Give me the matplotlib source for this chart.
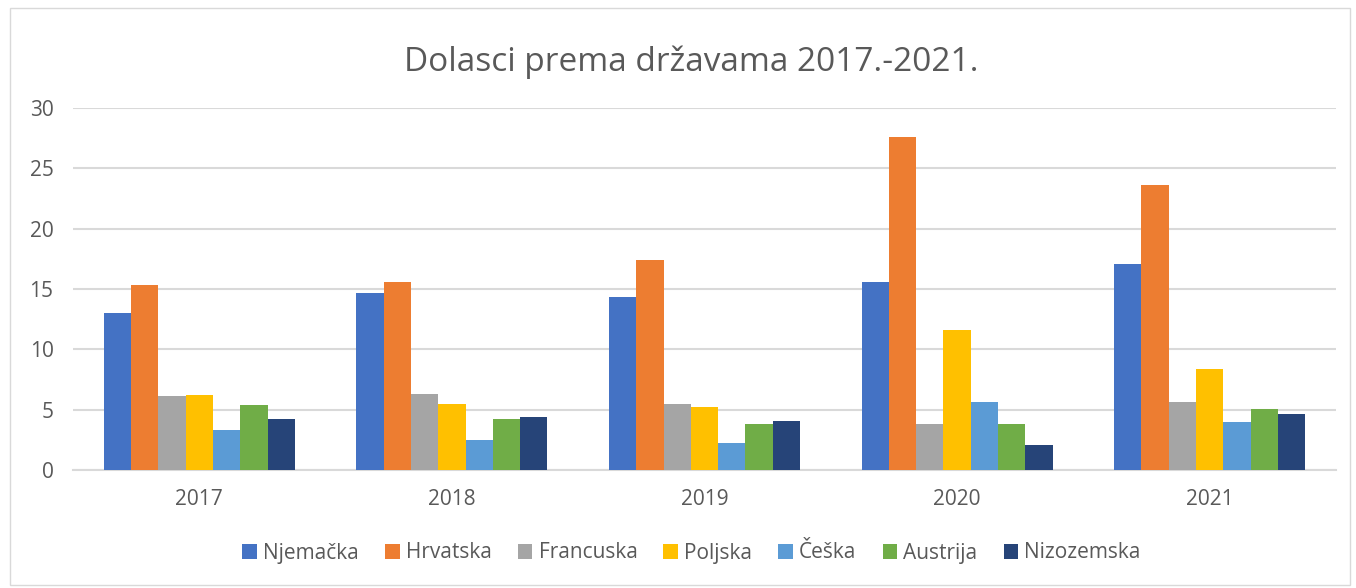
import numpy as np
import matplotlib.pyplot as plt
from matplotlib.patches import Rectangle

years = ["2017", "2018", "2019", "2020", "2021"]
countries = ["Njemačka", "Hrvatska", "Francuska", "Poljska", "Češka", "Austrija", "Nizozemska"]
colors = ["#4472C4", "#ED7D31", "#A5A5A5", "#FFC000", "#5B9BD5", "#70AD47", "#264478"]

njemacka = [13.05, 14.65, 14.35, 15.6, 17.05]
hrvatska = [15.3, 15.6, 17.4, 27.6, 23.65]
francuska = [6.1, 6.3, 5.45, 3.85, 5.6]
poljska = [6.25, 5.45, 5.2, 11.6, 8.4]
ceska = [3.3, 2.5, 2.25, 5.6, 4.0]
austrija = [5.35, 4.25, 3.85, 3.8, 5.05]
nizozemska = [4.2, 4.4, 4.1, 2.1, 4.6]

series = [njemacka, hrvatska, francuska, poljska, ceska, austrija, nizozemska]

plt.rcParams['font.family'] = ['Open Sans', 'DejaVu Sans']
grey = "#595959"

fig = plt.figure(figsize=(13.56, 5.88), dpi=100)
ax = fig.add_axes([73 / 1356, 118 / 588, 1263 / 1356, 362 / 588])

x = np.arange(len(years))
w = 0.108
for i, (name, vals) in enumerate(zip(countries, series)):
    ax.bar(x + (i - 3) * w, vals, w, color=colors[i], label=name, zorder=3)

ax.set_xlim(-0.5, 4.5)
ax.set_ylim(0, 30)
ax.set_yticks(range(0, 31, 5))
ax.set_xticks(x)
ax.set_xticklabels(years)
ax.grid(axis='y', color='#D9D9D9', linewidth=1.5, zorder=0)
for s in ['top', 'right', 'left']:
    ax.spines[s].set_visible(False)
ax.spines['bottom'].set_color('#D9D9D9')
ax.spines['bottom'].set_linewidth(1.5)
ax.tick_params(length=0, labelsize=15, labelcolor=grey)
ax.tick_params(axis='x', pad=14)
ax.tick_params(axis='y', pad=14)

fig.text(0.51, 1 - 62 / 588, "Dolasci prema državama 2017.-2021.", ha='center', va='center',
         fontsize=24, color=grey)

fig.legend(loc='center', bbox_to_anchor=(0.51, 1 - 553 / 588), ncol=7, frameon=False,
           fontsize=15, labelcolor=grey, handlelength=0.7, handleheight=0.7,
           handletextpad=0.3, columnspacing=1.25)

fig.patches.append(Rectangle((10 / 1356, 3 / 588), 1340 / 1356, 577 / 588, transform=fig.transFigure,
                             fill=False, edgecolor='#D9D9D9', linewidth=1))

fig.savefig("out.png", dpi=100)
